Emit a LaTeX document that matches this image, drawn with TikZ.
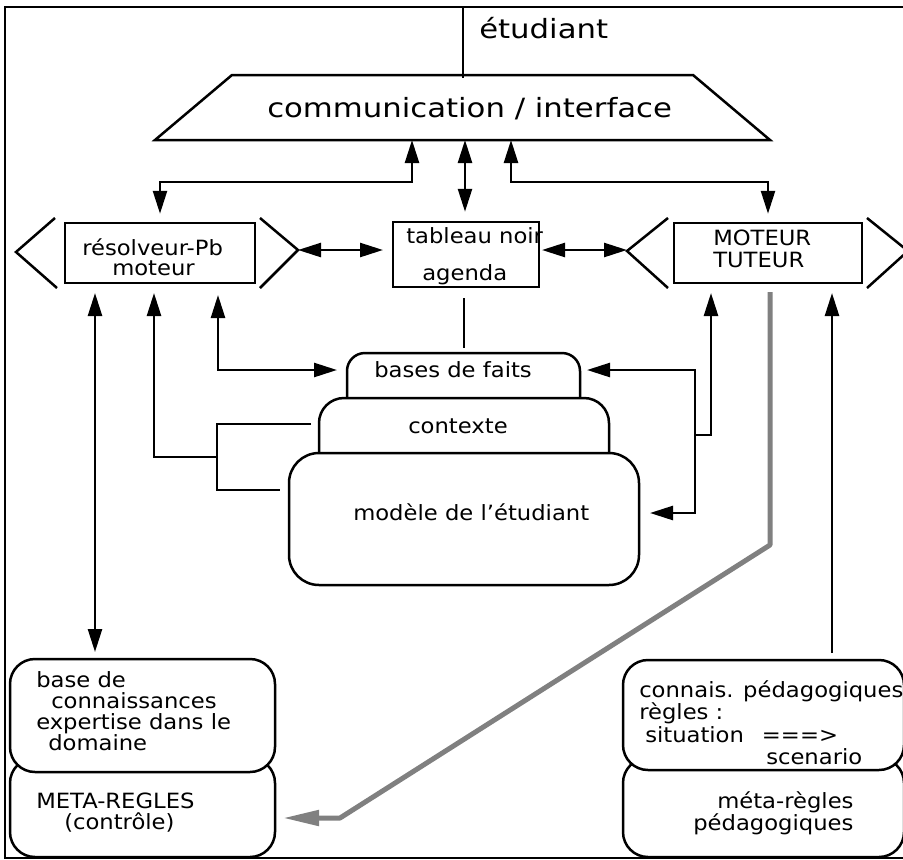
\documentclass[tikz,border=0pt]{standalone}
\usepackage{fontspec}
\setmainfont{DejaVu Sans}[FakeStretch=1.08]
\newfontfamily\bigfont{DejaVu Sans}[FakeStretch=1.16]
\usetikzlibrary{arrows.meta}
\begin{document}
\begin{tikzpicture}[x=1pt,y=-1pt,line width=2.5pt,line join=miter,
  lbl/.style={inner sep=0pt,anchor=base west,font=\fontsize{21pt}{24pt}\selectfont},
  biglbl/.style={inner sep=0pt,anchor=base west,font=\bigfont\fontsize{26.5pt}{30pt}\selectfont},
  box/.style={draw,inner sep=0pt},
  rbox/.style={draw,fill=white,inner sep=0pt,rounded corners=25pt},
  arr/.style={-{Triangle[length=23pt,width=14pt]}},
  darr/.style={{Triangle[length=23pt,width=14pt]}-{Triangle[length=23pt,width=14pt]}},
  hatch/.style={draw=black!50,line width=5pt,line join=round,-{Triangle[length=36pt,width=15pt]}}]
\useasboundingbox (0,0) rectangle (903,860);
\clip (0,0) rectangle (903,860);
% frame
\draw[line width=1.8pt] (915,7) -- (5,7) -- (5,858) -- (915,858);
% etudiant
\coordinate (stud) at (463,7);
\coordinate (commTop) at (463,78);
\draw (stud) -- (commTop);
\node[biglbl] (etud) at (478,38) {étudiant};
% communication / interface
\draw (232,75) -- (693,75) -- (770,140) -- (155,140) -- cycle;
\node[biglbl] (comm) at (266,117) {communication / interface};
\coordinate (cA) at (412,140);
\coordinate (cB) at (465,140);
\coordinate (cC) at (511,140);
% resolveur
\node[box,minimum width=190pt,minimum height=60pt] (res) at (160,253) {};
\draw (55,218) -- (16,252) -- (57,288);
\draw (260,218) -- (298,250) -- (260,288);
\coordinate (resR) at (298,250);
\node[lbl] (resT1) at (81,255) {résolveur-Pb};
\node[lbl] (resT2) at (111,275) {moteur};
% tableau noir
\node[box,minimum width=146pt,minimum height=65pt] (tab) at (466,254.5) {};
\node[lbl] (tabT1) at (405,243) {tableau noir};
\node[lbl] (tabT2) at (421,280) {agenda};
\coordinate (tabL) at (383,250);
\coordinate (tabR) at (542,250);
\coordinate (tabB) at (464,298);
% moteur tuteur
\node[box,minimum width=188pt,minimum height=60pt] (mot) at (768,253) {};
\draw (668,218) -- (627,251) -- (668,288);
\draw (867,218) -- (908,251) -- (867,288);
\coordinate (motL) at (627,250);
\node[lbl] (motT1) at (712,245) {MOTEUR};
\node[lbl] (motT2) at (712,267) {TUTEUR};
% stacked: bases de faits / contexte / modele
\node[rbox,rounded corners=30pt,minimum width=350pt,minimum height=132pt] (mod) at (464,519) {};
\draw[rounded corners=25pt] (319,453) -- (319,398) -- (609,398) -- (609,453);
\draw[rounded corners=18pt] (347,398) -- (347,353) -- (580,353) -- (580,398);
\coordinate (bfT) at (464,348);
\node[lbl] (bfT1) at (373,377) {bases de faits};
\node[lbl] (ctxT1) at (407,433) {contexte};
\node[lbl] (modT1) at (352,520) {modèle de l'étudiant};
% bottom left boxes
\node[rbox,minimum width=265pt,minimum height=99pt] (meta) at (142.5,807.5) {};
\node[rbox,minimum width=265pt,minimum height=113pt] (kb) at (142.5,715.5) {};
\node[lbl] (kbT1) at (35,687) {base de};
\node[lbl] (kbT2) at (50,708) {connaissances};
\node[lbl] (kbT3) at (35,729) {expertise dans le};
\node[lbl] (kbT4) at (47,750) {domaine};
\node[lbl] (metaT1) at (35,808) {META-REGLES};
\node[lbl] (metaT2) at (63,829) {(contrôle)};
% bottom right boxes
\node[rbox,minimum width=281pt,minimum height=99pt] (mped) at (763.5,807.5) {};
\node[rbox,minimum width=281pt,minimum height=110pt] (ped) at (763.5,715) {};
\node[lbl] (pedT1) at (638,697) {connais. pédagogiques};
\node[lbl] (pedT2) at (638,719) {règles :};
\node[lbl] (pedT3) at (644,742) {situation\hspace{18pt}===>};
\node[lbl] (pedT4) at (765,764) {scenario};
\node[lbl] (mpedT1) at (716,808) {méta-règles};
\node[lbl] (mpedT2) at (692,830) {pédagogiques};
% connector end points
\coordinate (resB1) at (95,293);
\coordinate (resB2) at (154,293);
\coordinate (resB3) at (218,295);
\coordinate (kbTop) at (95,652);
\coordinate (j1) at (217,457);
\coordinate (ctxW) at (311,424);
\coordinate (modW) at (280,490);
\coordinate (bfW) at (337,370);
\coordinate (bfE) at (587,370);
\coordinate (rj1) at (695,435);
\coordinate (rj2) at (695,513);
\coordinate (modE) at (650,513);
\coordinate (motB1) at (711,293);
\coordinate (motB2) at (832,293);
\coordinate (motB3) at (770,292);
\coordinate (pedTop) at (832,653);
\coordinate (hb1) at (770,545);
\coordinate (hb2) at (340,818);
\coordinate (metaE) at (283,818);
% connectors
\draw[darr] (cA) -- (412,182) -| ([yshift=8pt]res.north);
\draw[darr] (cB) -- ([yshift=9pt]tab.north -| cB);
\draw[darr] (cC) -- (511,182) -| ([yshift=8pt]mot.north);
\draw[darr] (resR) -- (tabL);
\draw[darr] (tabR) -- (motL);
\draw (tabB) -- (bfT);
\draw[darr] (resB1) -- (kbTop);
\draw[arr] (j1) -| (resB2);
\draw (ctxW) -| (j1) |- (modW);
\draw[darr] (resB3) |- (bfW);
\draw[darr] (bfE) -| (rj2) -- (modE);
\draw[arr] (rj1) -| (motB1);
\draw[arr] (pedTop) -- (motB2);
\draw[hatch] (motB3) -- (hb1) -- (hb2) -- (metaE);
\end{tikzpicture}
\end{document}
